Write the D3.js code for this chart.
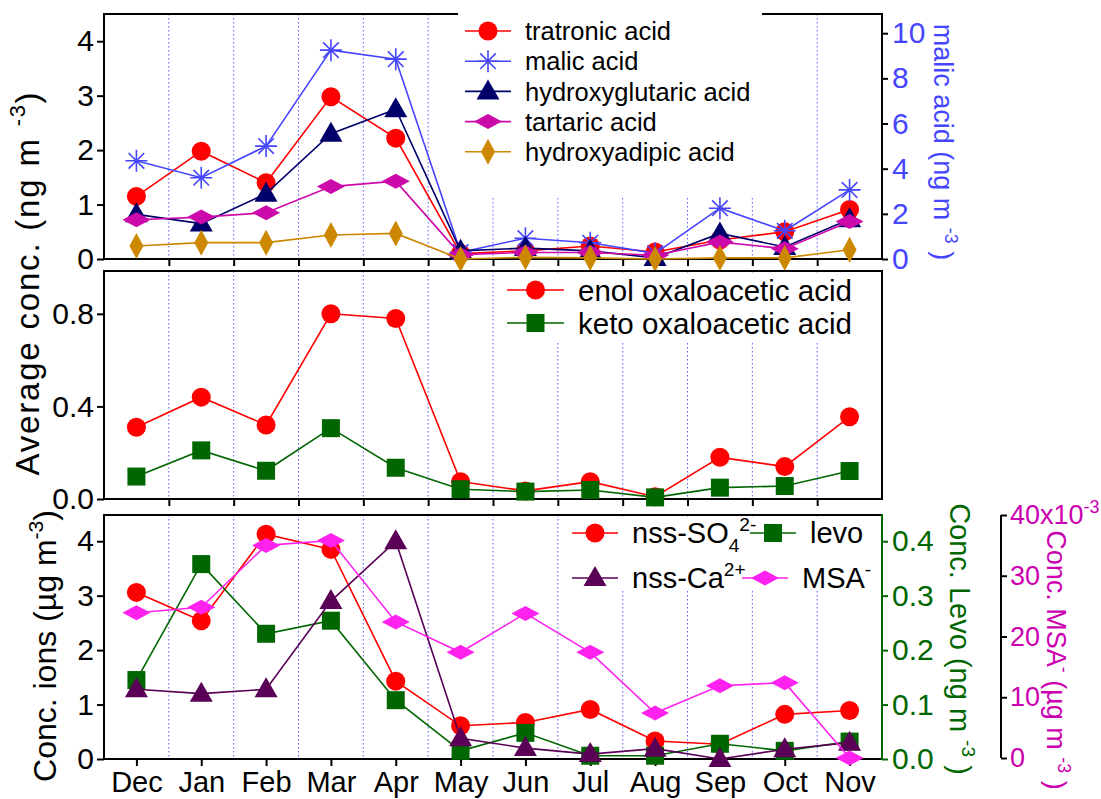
<!DOCTYPE html>
<html>
<head>
<meta charset="utf-8">
<script src="https://cdn.jsdelivr.net/npm/d3@7"></script>
<style>
  body { margin: 0; background: #fff; }
  svg { display: block; font-family: "Liberation Sans", Arial, sans-serif; }
</style>
</head>
<body>
<svg id="chart" width="1101" height="799"></svg>
<script>
// ---- data ----
const months = ["Dec", "Jan", "Feb", "Mar", "Apr", "May", "Jun", "Jul", "Aug", "Sep", "Oct", "Nov"];

// top panel (ng m-3), malic on right axis
const tratronic = [1.15, 1.98, 1.40, 2.98, 2.22, 0.10, 0.15, 0.24, 0.13, 0.35, 0.50, 0.91];
const malic = [4.35, 3.60, 5.00, 9.25, 8.85, 0.30, 0.92, 0.72, 0.25, 2.25, 1.25, 3.06];
const hydroxyglutaric = [0.82, 0.65, 1.20, 2.30, 2.75, 0.15, 0.20, 0.15, 0.02, 0.47, 0.22, 0.73];
const tartaric = [0.72, 0.77, 0.85, 1.33, 1.43, 0.08, 0.12, 0.12, 0.07, 0.31, 0.19, 0.69];
const hydroxyadipic = [0.24, 0.30, 0.30, 0.44, 0.47, 0.00, 0.03, 0.02, 0.00, 0.02, 0.02, 0.17];

// middle panel
const enolOAA = [0.31, 0.44, 0.32, 0.80, 0.78, 0.075, 0.035, 0.075, 0.01, 0.18, 0.14, 0.355];
const ketoOAA = [0.097, 0.21, 0.122, 0.306, 0.135, 0.042, 0.032, 0.039, 0.007, 0.049, 0.056, 0.121];

// bottom panel: ions (ug m-3), levo (ng m-3), MSA (x10-3 ug m-3)
const nssSO4 = [3.06, 2.54, 4.13, 3.85, 1.43, 0.61, 0.67, 0.91, 0.33, 0.27, 0.82, 0.89];
const nssCa = [1.28, 1.20, 1.28, 2.90, 4.00, 0.38, 0.20, 0.09, 0.19, 0.00, 0.18, 0.30];
const levo = [0.145, 0.358, 0.230, 0.254, 0.108, 0.015, 0.048, 0.006, 0.006, 0.028, 0.015, 0.032];
const msa = [23.9, 24.8, 35.0, 35.8, 22.4, 17.4, 23.8, 17.4, 7.4, 11.9, 12.4, 0.0];

const topTicks = [0, 1, 2, 3, 4];
const malicTicks = [0, 2, 4, 6, 8, 10];
const midTicks = [0, 0.4, 0.8];
const levoTicks = [0, 0.1, 0.2, 0.3, 0.4];
const msaTicks = [0, 10, 20, 30, 40];

// ---- layout ----
const svg = d3.select("#chart");
const FONT = 30;
const x = d3.scaleLinear().domain([0.5, 12.5]).range([104, 882]);
const monthPos = months.map((m, i) => i + 1);
const bounds = d3.range(1.5, 12, 1);

const P1 = { top: 14, bottom: 259 };
const P2 = { top: 271, bottom: 499 };
const P3 = { top: 515, bottom: 759 };

const yTop = d3.scaleLinear().domain([0, 4.5]).range([P1.bottom, P1.top]);
const yMalic = d3.scaleLinear().domain([0, 10.85]).range([P1.bottom, P1.top]);
const yMid = d3.scaleLinear().domain([0, 0.985]).range([P2.bottom, P2.top]);
const yBot = d3.scaleLinear().domain([0, 4.5]).range([P3.bottom, P3.top - 1]);
const yLevo = d3.scaleLinear().domain([0, 0.45]).range([P3.bottom, P3.top - 1]);
const yMsa = d3.scaleLinear().domain([0, 40]).range([758, 515]);

const C = {
  red: "#ff0000", malic: "#4646ff", navy: "#00006a", tart: "#cc0aaa", gold: "#cc8800",
  green: "#006600", purple: "#5a0056", msa: "#ff22ee", msaAxis: "#cc00b0", grid: "#5b5bff"
};

// ---- helpers ----
function markerPath(type) {
  switch (type) {
    case "circle": return d3.symbol(d3.symbolCircle, Math.PI * 9.5 * 9.5)();
    case "square": return "M-9,-9H9V9H-9Z";
    case "triangle": return "M0,-12L11.5,8L-11.5,8Z";
    case "diamondWide": return "M-14,0L0,-7.5L14,0L0,7.5Z";
    case "diamondTall": return "M-7,0L0,-13L7,0L0,13Z";
    case "asterisk": return "M0,-11V11M-11,0H11M-7.8,-7.8L7.8,7.8M-7.8,7.8L7.8,-7.8";
  }
}

function drawMarker(g, type, cx, cy, color) {
  const p = g.append("path").attr("d", markerPath(type))
    .attr("transform", `translate(${cx},${cy})`);
  if (type === "asterisk") p.attr("fill", "none").attr("stroke", color).attr("stroke-width", 1.6);
  else p.attr("fill", color);
}

function drawSeries(g, values, y, color, type) {
  const line = d3.line().x((d, i) => x(monthPos[i])).y(d => y(d));
  g.append("path").datum(values).attr("d", line)
    .attr("fill", "none").attr("stroke", color).attr("stroke-width", 1.6);
  values.forEach((v, i) => drawMarker(g, type, x(monthPos[i]), y(v), color));
}

// text with super/subscripts: parts = [[str, "sup"|"sub"|null], ...]
function richText(t, parts, size) {
  let shift = 0;
  parts.forEach(([s, kind]) => {
    const target = kind === "sup" ? -0.42 * size : kind === "sub" ? 0.28 * size : 0;
    t.append("tspan")
      .attr("dy", target - shift)
      .attr("font-size", kind ? size * 0.66 : size)
      .text(s);
    shift = target;
  });
}

function grid(g, panel) {
  g.selectAll(null).data(bounds).join("line")
    .attr("x1", d => x(d)).attr("x2", d => x(d))
    .attr("y1", panel.top).attr("y2", panel.bottom)
    .attr("stroke", C.grid).attr("stroke-width", 1).attr("stroke-dasharray", "1.5,2.5");
}

function styleAxis(g, color) {
  g.select(".domain").remove();
  g.selectAll(".tick line").attr("stroke", color || "#000").attr("stroke-width", 2);
  g.selectAll(".tick text").attr("font-size", FONT).attr("font-family", null);
}

function frame(g, panel, sides) {
  const l = x.range()[0], r = x.range()[1];
  const segs = {
    top: [l - 1, panel.top, r + 1, panel.top], bottom: [l - 1, panel.bottom, r + 1, panel.bottom],
    left: [l, panel.top, l, panel.bottom], right: [r, panel.top, r, panel.bottom]
  };
  sides.forEach(s => g.append("line")
    .attr("x1", segs[s][0]).attr("y1", segs[s][1])
    .attr("x2", segs[s][2]).attr("y2", segs[s][3])
    .attr("stroke", "#000").attr("stroke-width", 2));
}

function legendRow(g, type, color, x1, x2, cy, label, size) {
  g.append("line").attr("x1", x1).attr("x2", x2).attr("y1", cy).attr("y2", cy)
    .attr("stroke", color).attr("stroke-width", 1.6);
  drawMarker(g, type, (x1 + x2) / 2, cy, color);
  const t = g.append("text").attr("x", x2 + 14).attr("y", cy + size * 0.36).attr("font-size", size);
  richText(t, label, size);
}

// ================= top panel =================
const g1 = svg.append("g");
grid(g1, P1);
frame(g1, P1, ["top", "bottom", "left", "right"]);
g1.append("g").attr("transform", `translate(${x.range()[0]},0)`)
  .call(d3.axisLeft(yTop).tickValues(topTicks).tickSize(7).tickPadding(3).tickFormat(d3.format("d")))
  .call(a => styleAxis(a));
g1.append("g").attr("transform", `translate(${x.range()[1]},0)`)
  .call(d3.axisRight(yMalic).tickValues(malicTicks).tickSize(6).tickPadding(4).tickFormat(d3.format("d")))
  .call(a => { styleAxis(a); a.selectAll(".tick text").attr("fill", C.malic); });
g1.append("g").attr("transform", `translate(0,${P1.bottom})`)
  .call(d3.axisBottom(x).tickValues(bounds).tickSize(7).tickFormat(""))
  .call(a => styleAxis(a));
g1.append("rect").attr("x", 458).attr("y", 11).attr("width", 304).attr("height", 186).attr("fill", "#fff");

drawSeries(g1, tratronic, yTop, C.red, "circle");
drawSeries(g1, malic, yMalic, C.malic, "asterisk");
drawSeries(g1, hydroxyglutaric, yTop, C.navy, "triangle");
drawSeries(g1, tartaric, yTop, C.tart, "diamondWide");
drawSeries(g1, hydroxyadipic, yTop, C.gold, "diamondTall");

const leg1 = [
  ["circle", C.red, "tratronic acid"],
  ["asterisk", C.malic, "malic acid"],
  ["triangle", C.navy, "hydroxyglutaric acid"],
  ["diamondWide", C.tart, "tartaric acid"],
  ["diamondTall", C.gold, "hydroxyadipic acid"]
];
leg1.forEach((d, i) => legendRow(g1, d[0], d[1], 465, 511, 31 + i * 30.2, [[d[2]]], 25.5));

// malic axis title
const tMalic = g1.append("text").attr("text-anchor", "middle").attr("fill", C.malic)
  .attr("transform", "translate(934,142) rotate(90)").attr("font-size", 27);
richText(tMalic, [["malic acid (ng m "], ["-3", "sup"], [" )"]], 27);

// ================= middle panel =================
const g2 = svg.append("g");
grid(g2, P2);
g2.append("rect").attr("x", 500).attr("y", P2.top + 2).attr("width", 380).attr("height", 70).attr("fill", "#fff");
frame(g2, P2, ["top", "bottom", "left", "right"]);
g2.append("g").attr("transform", `translate(${x.range()[0]},0)`)
  .call(d3.axisLeft(yMid).tickValues(midTicks).tickSize(7).tickPadding(3).tickFormat(d3.format(".1f")))
  .call(a => styleAxis(a));
g2.append("g").attr("transform", `translate(0,${P2.bottom})`)
  .call(d3.axisBottom(x).tickValues(bounds).tickSize(7).tickFormat(""))
  .call(a => styleAxis(a));

drawSeries(g2, enolOAA, yMid, C.red, "circle");
drawSeries(g2, ketoOAA, yMid, C.green, "square");
legendRow(g2, "circle", C.red, 507, 564, 290, [["enol oxaloacetic acid"]], 29.5);
legendRow(g2, "square", C.green, 507, 564, 323, [["keto oxaloacetic acid"]], 29.5);

// shared left title
const tAvg = svg.append("text").attr("text-anchor", "middle").attr("letter-spacing", 1.8)
  .attr("transform", "translate(39,283) rotate(-90)").attr("font-size", 33);
richText(tAvg, [["Average conc. (ng m "], ["-3", "sup"], [")"]], 33);

// ================= bottom panel =================
const g3 = svg.append("g");
grid(g3, P3);
g3.append("rect").attr("x", 565).attr("y", P3.top + 2).attr("width", 315).attr("height", 73).attr("fill", "#fff");
frame(g3, P3, ["top", "bottom", "left"]);
g3.append("g").attr("transform", `translate(${x.range()[0]},0)`)
  .call(d3.axisLeft(yBot).tickValues(topTicks).tickSize(7).tickPadding(3).tickFormat(d3.format("d")))
  .call(a => styleAxis(a));
g3.append("g").attr("transform", `translate(0,${P3.bottom})`)
  .call(d3.axisBottom(x).tickValues(monthPos).tickSize(7).tickPadding(5).tickFormat((d, i) => months[i]))
  .call(a => { styleAxis(a); a.selectAll(".tick text").attr("font-size", 29); });

// levo axis (green, on the right frame)
g3.append("g").attr("transform", `translate(${x.range()[1]},0)`)
  .call(d3.axisRight(yLevo).tickValues(levoTicks).tickSize(6).tickPadding(4).tickFormat(d3.format(".1f")))
  .call(a => {
    a.select(".domain").remove();
    a.selectAll(".tick line").attr("stroke", C.green).attr("stroke-width", 2);
    a.selectAll(".tick text").attr("font-size", FONT).attr("fill", C.green);
  });
g3.append("line").attr("x1", x.range()[1]).attr("x2", x.range()[1])
  .attr("y1", P3.top - 1).attr("y2", P3.bottom + 1).attr("stroke", C.green).attr("stroke-width", 2);

// MSA axis (separate, further right)
const msaAxis = g3.append("g").attr("transform", "translate(1001,0)")
  .call(d3.axisRight(yMsa).tickValues(msaTicks).tickSize(6).tickPadding(3)
    .tickFormat(d => d === 40 ? "40x10" : d));
msaAxis.select(".domain").remove();
msaAxis.selectAll(".tick line").attr("stroke", "#000").attr("stroke-width", 2);
msaAxis.selectAll(".tick text").attr("font-size", 27).attr("fill", C.msaAxis);
msaAxis.selectAll(".tick text").filter(d => d === 40)
  .append("tspan").attr("dy", -11).attr("font-size", 18).text("-3");
msaAxis.append("line").attr("x1", 0).attr("x2", 0).attr("y1", yMsa(40)).attr("y2", yMsa(0))
  .attr("stroke", "#000").attr("stroke-width", 2);

drawSeries(g3, nssSO4, yBot, C.red, "circle");
drawSeries(g3, levo, yLevo, C.green, "square");
drawSeries(g3, nssCa, yBot, C.purple, "triangle");
drawSeries(g3, msa, yMsa, C.msa, "diamondWide");

legendRow(g3, "circle", C.red, 572, 618, 533, [["nss-SO"], ["4", "sub"], ["2-", "sup"]], 29);
legendRow(g3, "square", C.green, 750, 796, 533, [["levo"]], 29);
legendRow(g3, "triangle", C.purple, 572, 618, 578, [["nss-Ca"], ["2+", "sup"]], 29);
legendRow(g3, "diamondWide", C.msa, 742, 788, 578, [["MSA"], ["-", "sup"]], 29);

const tIons = svg.append("text").attr("text-anchor", "middle")
  .attr("transform", "translate(56,646) rotate(-90)").attr("font-size", 32);
richText(tIons, [["Conc. ions (µg m"], ["-3", "sup"], [")"]], 32);

const tLevo = svg.append("text").attr("text-anchor", "middle").attr("fill", C.green)
  .attr("transform", "translate(950,639) rotate(90)").attr("font-size", 29);
richText(tLevo, [["Conc. Levo (ng m "], ["-3", "sup"], [" )"]], 29);

const tMsa = svg.append("text").attr("text-anchor", "middle").attr("fill", C.msaAxis)
  .attr("transform", "translate(1047,660) rotate(90)").attr("font-size", 27);
richText(tMsa, [["Conc. MSA"], ["-", "sup"], [" (µg m "], ["-3", "sup"], [" )"]], 27);
</script>
</body>
</html>
